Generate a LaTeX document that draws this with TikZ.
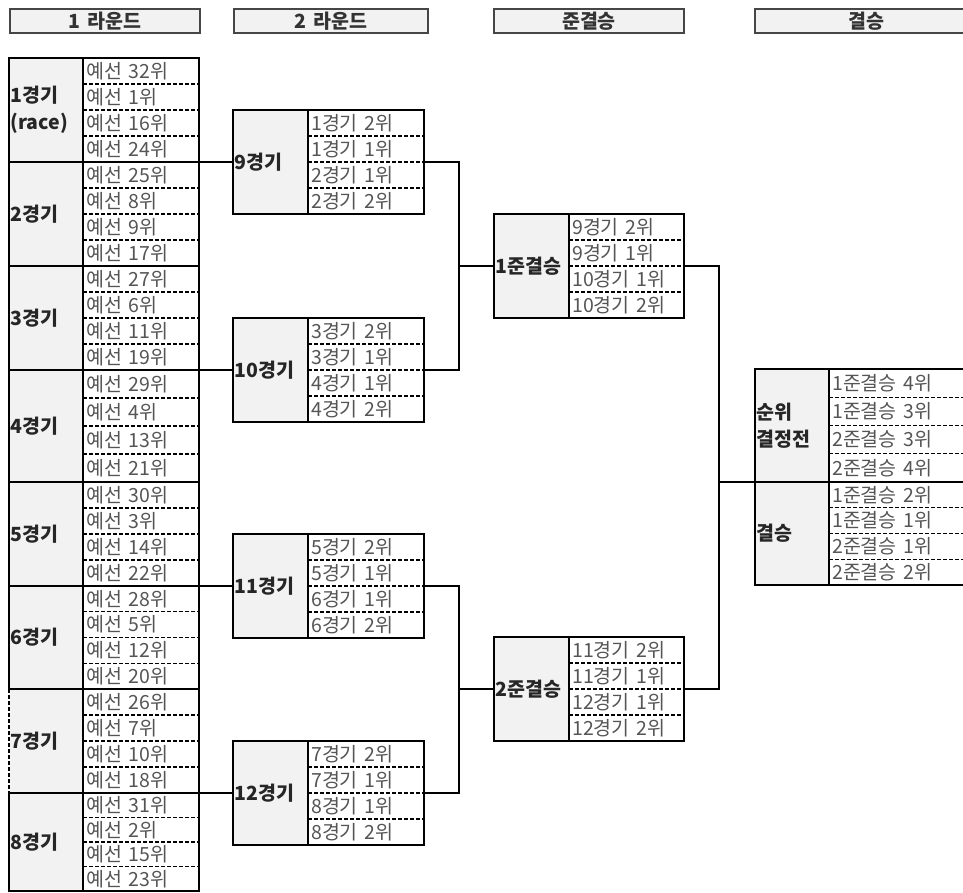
\documentclass[tikz,border=0pt]{standalone}
\usepackage{fontspec}
\setmainfont{Noto Sans CJK KR}[WordSpace=1.5]
\usepackage{tikz}
\usetikzlibrary{positioning, calc}
\definecolor{cellgray}{RGB}{242,242,242}
\definecolor{rowtext}{RGB}{85,85,85}
\definecolor{framegray}{RGB}{70,70,70}

% one match: id, top-left corner, label width, cell width, height, label, entries
\newcommand{\matchbox}[7]{%
  \node[lab, minimum width=#3, minimum height=#5] (#1-g) at (#2) {};
  \node[labtext] (#1-t) at (#1-g.west) {#6};
  \node[cell, minimum width=#4, minimum height=#5] (#1-w) at (#1-g.north east) {};
  \foreach \txt [count=\i] in {#7} {
    \node[row] (#1-r\i) at ($(#1-w.north west)!{(2*\i-1)/8}!(#1-w.south west)$) {\txt};
  }
  \foreach \i in {1,2,3} {
    \draw[sep] ($(#1-w.north west)!{\i/4}!(#1-w.south west)$) --
               ($(#1-w.north east)!{\i/4}!(#1-w.south east)$);
  }
}

\begin{document}
\begin{tikzpicture}[x=1pt, y=-1pt,
    lab/.style={draw, fill=cellgray, line width=1.3pt, inner sep=0pt, outer sep=0pt,
                anchor=north west},
    labtext/.style={anchor=west, inner sep=0pt, xshift=1.5pt, align=left,
                font=\fontsize{19.5}{27}\selectfont\bfseries, text=black!85},
    cell/.style={draw, fill=white, line width=1.3pt, inner sep=0pt, outer sep=0pt,
                anchor=north west},
    row/.style={anchor=west, inner sep=0pt, xshift=3pt,
                font=\fontsize{19.5}{20}\selectfont, text=rowtext},
    sep/.style={dashed, dash pattern=on 4pt off 2pt, line width=1.2pt},
    head/.style={draw=framegray, fill=cellgray, line width=2pt, anchor=north west,
                minimum height=24, inner sep=0pt,
                font=\fontsize{19.5}{18}\selectfont\bfseries, text=black!80},
    link/.style={line width=1.3pt}]

  \clip (0,0) rectangle (963,893);

  % round headers
  \node[head, minimum width=190] (h1) at (9,8) {1 라운드};
  \node[head, minimum width=194] (h2) at (233,8) {2 라운드};
  \node[head, minimum width=190] (h3) at (493,8) {준결승};
  \node[head, minimum width=222] (h4) at (754,8) {결승};

  % 1 round
  \matchbox{m1}{9,58}{74}{116}{104}{1경기\\(race)}{예선 32위,예선 1위,예선 16위,예선 24위}
  \matchbox{m2}{9,162}{74}{116}{104}{2경기}{예선 25위,예선 8위,예선 9위,예선 17위}
  \matchbox{m3}{9,266}{74}{116}{104}{3경기}{예선 27위,예선 6위,예선 11위,예선 19위}
  \matchbox{m4}{9,370}{74}{116}{112}{4경기}{예선 29위,예선 4위,예선 13위,예선 21위}
  \matchbox{m5}{9,482}{74}{116}{104}{5경기}{예선 30위,예선 3위,예선 14위,예선 22위}
  \matchbox{m6}{9,586}{74}{116}{103}{6경기}{예선 28위,예선 5위,예선 12위,예선 20위}
  \matchbox{m7}{9,689}{74}{116}{104}{7경기}{예선 26위,예선 7위,예선 10위,예선 18위}
  \matchbox{m8}{9,793}{74}{116}{98}{8경기}{예선 31위,예선 2위,예선 15위,예선 23위}
  \draw[white, line width=2pt] (m7-g.north west) -- (m7-g.south west);
  \draw[sep] (m7-g.north west) -- (m7-g.south west);

  % 2 round
  \matchbox{m9}{233,110}{75}{116}{104}{9경기}{1경기 2위,1경기 1위,2경기 1위,2경기 2위}
  \matchbox{m10}{233,318}{75}{116}{104}{10경기}{3경기 2위,3경기 1위,4경기 1위,4경기 2위}
  \matchbox{m11}{233,534}{75}{116}{104}{11경기}{5경기 2위,5경기 1위,6경기 1위,6경기 2위}
  \matchbox{m12}{233,741}{75}{116}{104}{12경기}{7경기 2위,7경기 1위,8경기 1위,8경기 2위}

  % semi-finals
  \matchbox{s1}{494,214}{75}{115}{104}{1준결승}{9경기 2위,9경기 1위,10경기 1위,10경기 2위}
  \matchbox{s2}{494,637}{75}{115}{104}{2준결승}{11경기 2위,11경기 1위,12경기 1위,12경기 2위}

  % final
  \matchbox{rk}{755,369}{74}{146}{113}{순위\\결정전}{1준결승 4위,1준결승 3위,2준결승 3위,2준결승 4위}
  \matchbox{fn}{755,482}{74}{146}{103}{결승}{1준결승 2위,1준결승 1위,2준결승 1위,2준결승 2위}

  \coordinate (j1) at (459,266);
  \coordinate (j2) at (459,689);
  \coordinate (j3) at (719,482);

  \draw[link] (m1-g.south west) -- (m9-g.west);
  \draw[link] (m3-g.south west) -- (m10-g.west);
  \draw[link] (m5-g.south west) -- (m11-g.west);
  \draw[link] (m7-g.south west) -- (m12-g.west);

  \draw[link] (m9-w.east) -| (j1) |- (m10-w.east);
  \draw[link] (j1) -- (s1-g.west);
  \draw[link] (m11-w.east) -| (j2) |- (m12-w.east);
  \draw[link] (j2) -- (s2-g.west);
  \draw[link] (s1-w.east) -| (j3) |- (s2-w.east);
  \draw[link] (j3) -- (rk-g.south west);
\end{tikzpicture}
\end{document}
